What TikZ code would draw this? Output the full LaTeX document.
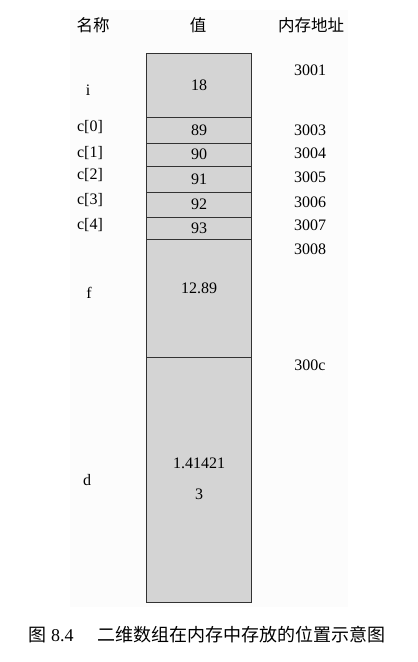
\documentclass[tikz,border=0pt]{standalone}
\usepackage{fontspec}
\setmainfont{Liberation Serif}
\newfontfamily\cjkfont{Noto Sans CJK SC}
\usepackage{tikz}
\usetikzlibrary{positioning}
\usepackage{xcolor}
\definecolor{cellgray}{RGB}{212,212,212}
\definecolor{celledge}{RGB}{50,50,50}
\definecolor{paperbg}{RGB}{252,252,252}
\tikzset{
    cell/.style={rectangle, draw=celledge, fill=cellgray, line width=0.9pt,
                 minimum width=105pt, minimum height=#1, inner sep=0pt,
                 outer sep=0pt, font=\fontsize{16}{18}\selectfont},
    txt/.style={inner sep=0pt, font=\fontsize{16}{18}\selectfont},
    hdr/.style={inner sep=0pt, font=\cjkfont\fontsize{16.5}{18}\selectfont},
}

\begin{document}
\begin{tikzpicture}[x=1pt, y=-1pt,
    varname/.style={txt},
    addr/.style={txt},
]
    \useasboundingbox (0,0) rectangle (418,662);
    \fill[paperbg] (70,10) rectangle (348,607);

    \node[hdr] (hname) at (93,25)  {名称};
    \node[hdr] (hval)  at (198,25) {值};
    \node[hdr] (haddr) at (311,25) {内存地址};

    \node[cell=64pt, anchor=north] (ci) at (199,53) {18};
    \node[cell=26pt, below=0pt of ci] (c0) {89};
    \node[cell=23pt, below=0pt of c0] (c1) {90};
    \node[cell=26pt, below=0pt of c1] (c2) {91};
    \node[cell=25pt, below=0pt of c2] (c3) {92};
    \node[cell=22pt, below=0pt of c3] (c4) {93};
    \node[cell=118pt, below=0pt of c4] (cf) {};
    \node[cell=245pt, below=0pt of cf] (cd) {};

    \node[txt] (vf)  at ([yshift=-49pt]cf.north)  {12.89};
    \node[txt] (vd1) at ([yshift=-106pt]cd.north) {1.41421};
    \node[txt] (vd2) at ([yshift=-137pt]cd.north) {3};

    \node[varname] (ni)  at (88,90)  {i};
    \node[varname] (n0)  at (90,127) {c[0]};
    \node[varname] (n1)  at (90,153) {c[1]};
    \node[varname] (n2)  at (90,175) {c[2]};
    \node[varname] (n3)  at (90,200) {c[3]};
    \node[varname] (n4)  at (90,225) {c[4]};
    \node[varname] (nf)  at (89,293) {f};
    \node[varname] (nd)  at (87,480) {d};

    \node[addr] (a1) at (310,70)  {3001};
    \node[addr] (a3) at (310,130) {3003};
    \node[addr] (a4) at (310,153) {3004};
    \node[addr] (a5) at (310,177) {3005};
    \node[addr] (a6) at (310,202) {3006};
    \node[addr] (a7) at (310,225) {3007};
    \node[addr] (a8) at (310,249) {3008};
    \node[addr] (ac) at (310,365) {300c};

    \node[inner sep=0pt, font=\fontsize{18}{20}\selectfont] (cap) at (207,635)
        {{\cjkfont 图} 8.4\hspace{24pt}{\cjkfont 二维数组在内存中存放的位置示意图}};
\end{tikzpicture}
\end{document}
